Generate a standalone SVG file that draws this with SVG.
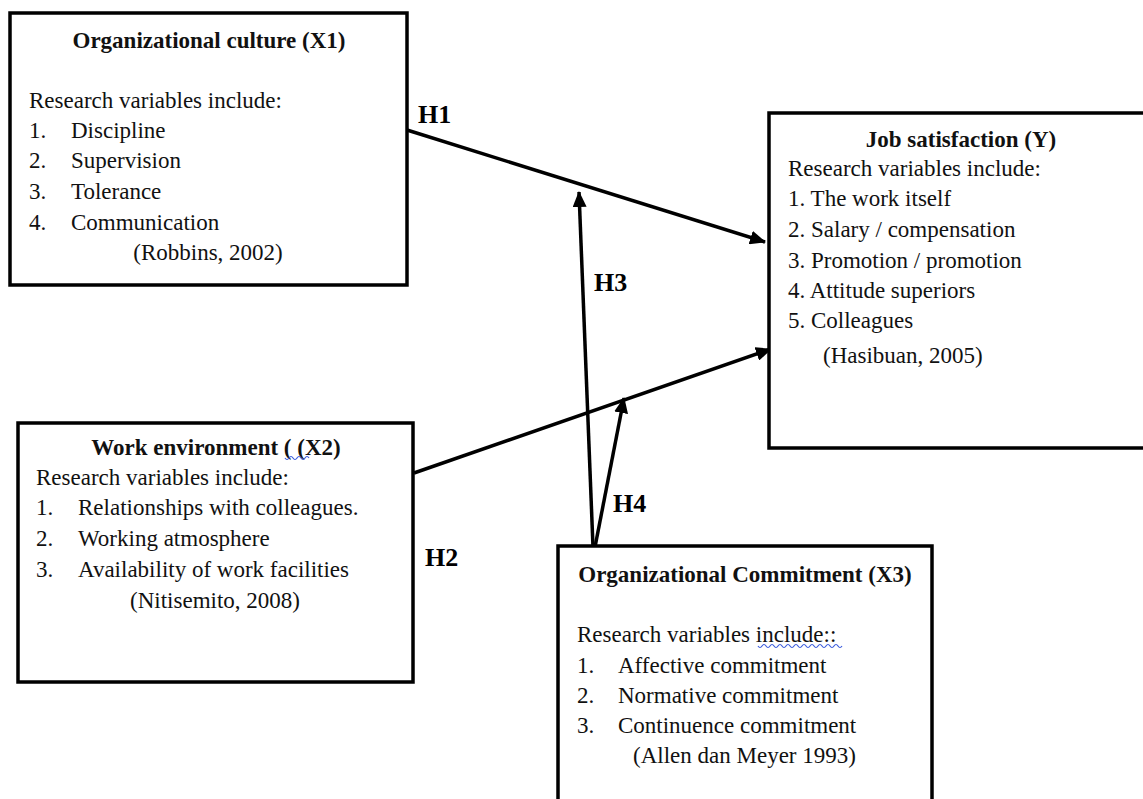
<svg xmlns="http://www.w3.org/2000/svg" width="1143" height="799" viewBox="0 0 1143 799">
<defs>
<style>
.box{fill:#fff;stroke:#000;stroke-width:3.5}
.t{font-family:"Liberation Serif","Times New Roman",serif;font-size:23px;fill:#111}
.b{font-weight:bold}
.c{text-anchor:middle}
.h{font-family:"Liberation Serif","Times New Roman",serif;font-size:26px;font-weight:bold;fill:#000}
.con{stroke:#000;stroke-width:3.5;fill:none;marker-end:url(#ah)}
.wav{stroke:#3a5bdc;stroke-width:1.2;fill:none}
</style>
<marker id="ah" markerUnits="userSpaceOnUse" markerWidth="16" markerHeight="14" refX="15" refY="7" orient="auto">
<path d="M0,0 L16,7 L0,14 Z" fill="#000"/>
</marker>
</defs>
<rect width="1143" height="799" fill="#fff"/>

<g id="connectors">
<line class="con" x1="407" y1="130" x2="765" y2="242"/>
<line class="con" x1="414" y1="473" x2="771" y2="349"/>
<line class="con" x1="593" y1="547" x2="579" y2="192"/>
<line class="con" x1="595" y1="547" x2="624" y2="398"/>
<text class="h" x="418" y="123">H1</text>
<text class="h" x="594" y="291">H3</text>
<text class="h" x="613" y="512">H4</text>
<text class="h" x="425" y="566">H2</text>
</g>

<g id="x1">
<rect class="box" x="10" y="13" width="397" height="272"/>
<text class="t b c" x="209" y="48">Organizational culture (X1)</text>
<text class="t" x="29" y="108">Research variables include:</text>
<text class="t" x="29" y="138">1.</text><text class="t" x="71" y="138">Discipline</text>
<text class="t" x="29" y="168">2.</text><text class="t" x="71" y="168">Supervision</text>
<text class="t" x="29" y="199">3.</text><text class="t" x="71" y="199">Tolerance</text>
<text class="t" x="29" y="230">4.</text><text class="t" x="71" y="230">Communication</text>
<text class="t c" x="208" y="260">(Robbins, 2002)</text>
</g>

<g id="y">
<rect class="box" x="769" y="113" width="400" height="335"/>
<text class="t b c" x="961" y="147">Job satisfaction (Y)</text>
<text class="t" x="788" y="176">Research variables include:</text>
<text class="t" x="788" y="206">1. The work itself</text>
<text class="t" x="788" y="237">2. Salary / compensation</text>
<text class="t" x="788" y="268">3. Promotion / promotion</text>
<text class="t" x="788" y="298">4. Attitude superiors</text>
<text class="t" x="788" y="328">5. Colleagues</text>
<text class="t" x="823" y="363">(Hasibuan, 2005)</text>
</g>

<g id="x2">
<rect class="box" x="18" y="423" width="395" height="259"/>
<text class="t b c" x="216" y="455">Work environment ( (X2)</text>
<path class="wav" d="M285,458 q2,3 4,0 t4,0 t4,0 t4,0 t4,0 t4,0"/>
<text class="t" x="36" y="485">Research variables include:</text>
<text class="t" x="36" y="515">1.</text><text class="t" x="78" y="515">Relationships with colleagues.</text>
<text class="t" x="36" y="546">2.</text><text class="t" x="78" y="546">Working atmosphere</text>
<text class="t" x="36" y="577">3.</text><text class="t" x="78" y="577">Availability of work facilities</text>
<text class="t c" x="215" y="608">(Nitisemito, 2008)</text>
</g>

<g id="x3">
<rect class="box" x="558" y="546" width="374" height="270"/>
<text class="t b c" x="745" y="582">Organizational Commitment (X3)</text>
<text class="t" x="577" y="642">Research variables include::</text>
<path class="wav" d="M758,646 q2,3 4,0 t4,0 t4,0 t4,0 t4,0 t4,0 t4,0 t4,0 t4,0 t4,0 t4,0 t4,0 t4,0 t4,0 t4,0 t4,0 t4,0 t4,0 t4,0 t4,0 t4,0"/>
<text class="t" x="577" y="673">1.</text><text class="t" x="618" y="673">Affective commitment</text>
<text class="t" x="577" y="703">2.</text><text class="t" x="618" y="703">Normative commitment</text>
<text class="t" x="577" y="733">3.</text><text class="t" x="618" y="733">Continuence commitment</text>
<text class="t" x="633" y="763">(Allen dan Meyer 1993)</text>
</g>
</svg>
